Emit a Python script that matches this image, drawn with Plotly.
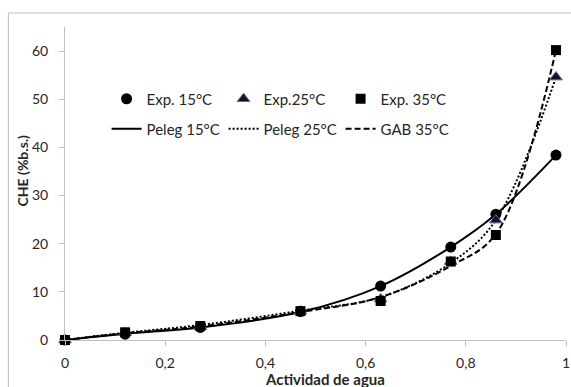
import plotly.graph_objects as go

# Data (water activity vs equilibrium moisture content, % dry basis)
aw = [0, 0.12, 0.27, 0.47, 0.63, 0.77, 0.86, 0.98]
exp15 = [0, 1.2, 2.6, 5.9, 11.2, 19.3, 26.1, 38.4]
exp25 = [0, 1.5, 2.8, 6.0, 8.5, 16.3, 24.9, 54.6]
exp35 = [0, 1.6, 2.9, 6.0, 8.1, 16.3, 21.8, 60.2]
peleg15 = [0, 1.3, 2.6, 5.8, 11.2, 19.3, 26.1, 38.4]
peleg25 = [0, 1.5, 3.1, 6.1, 8.9, 16.0, 24.9, 54.6]
gab35 = [0, 1.4, 2.8, 5.8, 8.9, 15.4, 22.0, 60.2]

x_ticks = [0, 0.2, 0.4, 0.6, 0.8, 1]
x_ticktext = ["0", "0,2", "0,4", "0,6", "0,8", "1"]
y_ticks = [0, 10, 20, 30, 40, 50, 60]

FONT = "Lato"
TXT = "#262626"
AXC = "#bfbfbf"

fig = go.Figure()

# model curves
fig.add_trace(go.Scatter(x=aw, y=peleg15, mode="lines", name="Peleg 15°C",
                         line=dict(color="black", width=2, shape="spline"),
                         legend="legend2", cliponaxis=False))
fig.add_trace(go.Scatter(x=aw, y=peleg25, mode="lines", name="Peleg 25°C",
                         line=dict(color="black", width=2, dash="2px,2px", shape="spline"),
                         legend="legend2", cliponaxis=False))
fig.add_trace(go.Scatter(x=aw, y=gab35, mode="lines", name="GAB 35°C",
                         line=dict(color="black", width=2, dash="6px,3px", shape="spline"),
                         legend="legend2", cliponaxis=False))

# experimental points
fig.add_trace(go.Scatter(x=aw, y=exp15, mode="markers", name="Exp. 15°C",
                         marker=dict(symbol="circle", size=11, color="black"),
                         legend="legend", cliponaxis=False))
fig.add_trace(go.Scatter(x=aw, y=exp25, mode="markers", name="Exp.25°C",
                         marker=dict(symbol="triangle-up", size=11, color="#16111f",
                                     line=dict(color="#6a5a9a", width=1)),
                         legend="legend", cliponaxis=False))
fig.add_trace(go.Scatter(x=aw, y=exp35, mode="markers", name="Exp. 35°C",
                         marker=dict(symbol="square", size=10, color="black"),
                         legend="legend", cliponaxis=False))

fig.update_layout(
    width=571, height=387,
    margin=dict(l=65, r=1, t=27, b=47),
    paper_bgcolor="white", plot_bgcolor="white",
    font=dict(family=FONT, size=14, color=TXT),
    showlegend=True,
    legend=dict(orientation="h", x=0.083, y=0.77, xanchor="left", yanchor="middle",
                entrywidth=72, entrywidthmode="pixels", bgcolor="rgba(0,0,0,0)",
                font=dict(family=FONT, size=15, color=TXT), traceorder="normal"),
    legend2=dict(orientation="h", x=0.083, y=0.674, xanchor="left", yanchor="middle",
                 entrywidth=72, entrywidthmode="pixels", bgcolor="rgba(0,0,0,0)",
                 font=dict(family=FONT, size=15, color=TXT), traceorder="normal"),
    xaxis=dict(range=[0, 1], tickvals=x_ticks, ticktext=x_ticktext,
               showgrid=False, zeroline=False, showline=True, linecolor=AXC, linewidth=1,
               ticks="outside", ticklen=5, tickcolor=AXC, ticklabelstandoff=5,
               ticklabeloverflow="allow",
               tickfont=dict(family=FONT, size=14, color=TXT)),
    yaxis=dict(range=[0, 65], tickvals=y_ticks,
               showgrid=False, zeroline=False, showline=True, linecolor=AXC, linewidth=1,
               ticks="outside", ticklen=5, tickcolor=AXC, ticklabelstandoff=8,
               tickfont=dict(family=FONT, size=14, color=TXT)),
    shapes=[dict(type="rect", xref="paper", yref="paper", x0=-0.113, x1=1.2,
                 y0=-0.4, y1=1.0447, line=dict(color=AXC, width=1), layer="below")],
    annotations=[
        dict(text="<b>CHE (%b.s.)</b>", xref="paper", yref="paper", x=-0.085, y=0.543,
             textangle=-90, showarrow=False, xanchor="center", yanchor="middle",
             font=dict(family=FONT, size=14, color=TXT)),
        dict(text="<b>Actividad de agua</b>", xref="paper", yref="paper", x=0.519, y=-0.126,
             showarrow=False, xanchor="center", yanchor="middle",
             font=dict(family=FONT, size=15, color=TXT)),
    ],
)

fig.write_html("out.html")
